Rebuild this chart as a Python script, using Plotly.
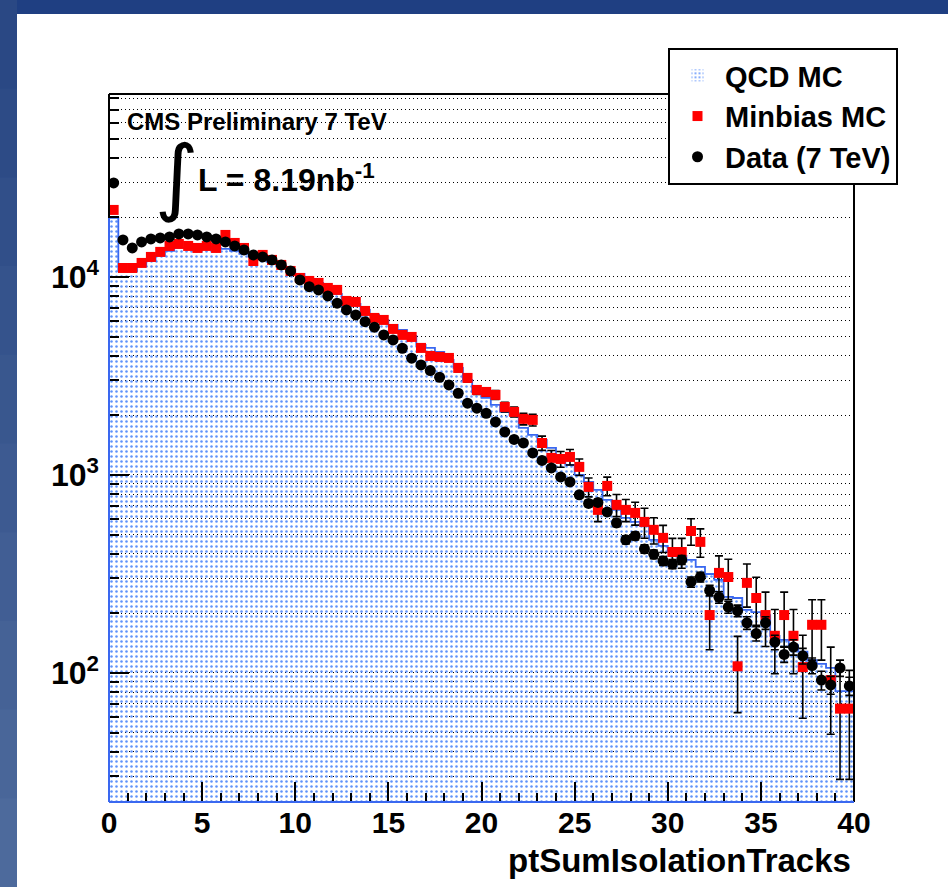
import numpy as np
import plotly.graph_objects as go

# ---------------- data ----------------
bin_edges = np.linspace(0, 40, 81)
bin_centers = 0.5 * (bin_edges[:-1] + bin_edges[1:])

qcd_mc = [19860, 10720, 10720, 11360, 12040, 12770, 13530, 14010, 14010, 14010,
          14170, 14010, 13850, 13530, 13070, 12620, 12330, 11910, 11360, 10850,
          10350, 9770, 9326, 8800, 8208, 7743, 7305, 6813, 6428, 6065,
          5722, 5398, 5035, 4535, 4380, 4180, 3809, 3471, 3019, 2625,
          2448, 2257, 2081, 2009, 1728, 1592, 1503, 1369, 1262, 1123,
          1000, 922, 840, 748, 666, 607, 579, 553, 470, 438,
          408, 390, 372, 343, 316, 295, 242, 239, 208, 203,
          196, 154, 147, 138, 128, 116, 111, 106, 81, 81]

minbias_mc = [21800, 11100, 11100, 11770, 12620, 13380, 14340, 14680, 14340, 14010,
              14340, 14010, 16300, 14850, 14010, 12040, 12920, 12190, 11500, 10720,
              9884, 9545, 9326, 8800, 8600, 7565, 7478, 6734, 6208, 6065,
              5462, 5095, 4977, 4380, 3990, 3945, 3899, 3471, 3090, 2687,
              2625, 2536, 2205, 2081, 1919, 1896, 1450, 1219, 1204, 1233,
              1098, 870, 666, 880, 706, 666, 643, 579, 528, 481,
              408, 408, 521, 459, 196, 320, 305, 108, 285, 239,
              196, 154, 196, 154, 107, 175, 175, 92, 66, 66]

minbias_err = [330, 230, 230, 240, 250, 260, 270, 270, 270, 265,
               270, 265, 290, 275, 265, 245, 255, 250, 240, 235,
               240, 235, 230, 225, 225, 210, 210, 200, 190, 190,
               180, 175, 170, 160, 155, 155, 150, 145, 140, 135,
               130, 130, 125, 120, 130, 130, 120, 110, 110, 110,
               105, 95, 85, 95, 90, 85, 85, 100, 80, 75,
               70, 70, 80, 75, 65, 70, 70, 45, 70, 65,
               60, 55, 60, 55, 48, 59, 59, 43, 37, 37]

data_7tev = [29830, 15380, 14010, 15030, 15560, 15740, 15920, 16490, 16490, 16300,
             15920, 15560, 15030, 14340, 13690, 12920, 12620, 12190, 11500, 10720,
             9656, 8934, 8600, 8017, 7366, 6813, 6428, 5946, 5572, 5095,
             4807, 4364, 3886, 3594, 3364, 3114, 2848, 2585, 2302, 2172,
             2049, 1852, 1649, 1511, 1450, 1292, 1184, 1085, 977, 922,
             793, 718, 726, 650, 572, 470, 492, 423, 397, 368,
             355, 372, 288, 305, 261, 241, 215, 206, 179, 158,
             179, 143, 124, 135, 122, 109, 92, 87, 106, 86]

data_err = [173, 124, 118, 123, 125, 125, 126, 128, 128, 128,
            126, 125, 123, 120, 117, 114, 112, 110, 107, 104,
            98, 95, 93, 90, 86, 83, 80, 77, 75, 71,
            69, 66, 62, 60, 58, 56, 53, 51, 48, 47,
            45, 43, 41, 39, 38, 36, 34, 33, 31, 30,
            28, 27, 27, 25, 24, 22, 22, 21, 20, 19,
            19, 19, 17, 17, 16, 16, 15, 14, 13, 13,
            13, 12, 11, 12, 11, 10, 10, 9, 10, 9]

x_tickvals = [0, 5, 10, 15, 20, 25, 30, 35, 40]
y_tickvals = [100, 1000, 10000]
y_ticktext = ["10<sup>2</sup>", "10<sup>3</sup>", "10<sup>4</sup>"]

# ---------------- layout helpers ----------------
W, H = 948, 887
PL, PR, PT, PB = 109, 854, 94, 802


def fx(p):
    return (p - PL) / (PR - PL)


def fy(p):
    return (PB - p) / (PB - PT)


FONT = "Liberation Sans, Arial, sans-serif"
HIST_BLUE = "#3a68f0"
DOT_BLUE = "#5f92fa"
GRID_DASH = "1px,3px"

fig = go.Figure()

# QCD MC: dotted fill (transparent background so the grid shows through)
fig.add_trace(go.Bar(
    x=bin_centers, y=qcd_mc, width=0.5,
    marker=dict(color="rgba(0,0,0,0)", line=dict(width=0),
                pattern=dict(shape=".", size=5, solidity=0.2, fgcolor=DOT_BLUE,
                             bgcolor="rgba(255,255,255,0)", fillmode="replace")),
    name="QCD MC", legendgroup="qcd", showlegend=True,
))
# QCD MC: step outline
step_x = list(bin_edges)
step_y = list(qcd_mc) + [qcd_mc[-1]]
fig.add_trace(go.Scatter(
    x=step_x, y=step_y, mode="lines", line=dict(color=HIST_BLUE, width=1.8, shape="hv"),
    showlegend=False, hoverinfo="skip",
))
# Minbias MC
fig.add_trace(go.Scatter(
    x=bin_centers, y=minbias_mc, mode="markers", name="Minbias MC", legendgroup="mb",
    marker=dict(symbol="square", size=10, color="#ff0000", line=dict(width=0)),
    error_y=dict(type="data", array=minbias_err, color="black", thickness=1.6, width=4),
))
# Data
fig.add_trace(go.Scatter(
    x=bin_centers, y=data_7tev, mode="markers", name="Data (7 TeV)", legendgroup="data",
    marker=dict(symbol="circle", size=11, color="black", line=dict(width=0)),
    error_y=dict(type="data", array=data_err, color="black", thickness=1.6, width=4),
))

shapes = []
shapes.append(dict(type="rect", xref="paper", yref="paper", layer="below",
                   x0=fx(-5), x1=fx(W + 5), y0=fy(H + 5), y1=fy(-5),
                   fillcolor="#2f4f8a", line=dict(width=0)))
n = 10
for i in range(n):
    t = i / (n - 1)
    r = int(0x2a + (0x4d - 0x2a) * t)
    g = int(0x48 + (0x6a - 0x48) * t)
    b = int(0x84 + (0x9c - 0x84) * t)
    shapes.append(dict(type="rect", xref="paper", yref="paper", layer="below",
                       x0=fx(-5), x1=fx(18), y0=fy(H * (i + 1) / n + 1), y1=fy(H * i / n),
                       fillcolor=f"rgb({r},{g},{b})", line=dict(width=0)))
shapes.append(dict(type="rect", xref="paper", yref="paper", layer="below",
                   x0=fx(17), x1=fx(W + 5), y0=fy(14), y1=fy(-5),
                   fillcolor="#1f3f82", line=dict(width=0)))
shapes.append(dict(type="rect", xref="paper", yref="paper", layer="below",
                   x0=fx(17), x1=fx(W + 5), y0=fy(H + 5), y1=fy(14),
                   fillcolor="white", line=dict(width=0)))
# frame: top/right black, left/bottom blue
shapes.append(dict(type="line", xref="paper", yref="paper", layer="above",
                   x0=0, x1=1, y0=1, y1=1, line=dict(color="black", width=2)))
shapes.append(dict(type="line", xref="paper", yref="paper", layer="above",
                   x0=1, x1=1, y0=0, y1=1, line=dict(color="black", width=2)))
shapes.append(dict(type="line", xref="paper", yref="paper", layer="above",
                   x0=0, x1=0, y0=0, y1=1, line=dict(color="black", width=2)))
shapes.append(dict(type="line", xref="paper", yref="paper", layer="above",
                   x0=0, x1=0, y0=0, y1=fy(218), line=dict(color=HIST_BLUE, width=2)))
shapes.append(dict(type="line", xref="paper", yref="paper", layer="above",
                   x0=0, x1=1, y0=0, y1=0, line=dict(color=HIST_BLUE, width=2)))

annotations = [
    dict(text="CMS Preliminary 7 TeV", xref="paper", yref="paper", x=fx(125), y=fy(121),
         xanchor="left", yanchor="middle", showarrow=False,
         font=dict(family=FONT, size=24, color="black", weight="bold")),
    dict(text="\u222B", xref="paper", yref="paper", x=fx(177), y=fy(176),
         xanchor="center", yanchor="middle", showarrow=False,
         font=dict(family="DejaVu Sans", size=84, color="black")),
    dict(text="L = 8.19nb<sup>-1</sup>", xref="paper", yref="paper", x=fx(196), y=fy(178),
         xanchor="left", yanchor="middle", showarrow=False,
         font=dict(family=FONT, size=32, color="black", weight="bold")),
    dict(text="ptSumIsolationTracks", xref="paper", yref="paper", x=fx(853), y=fy(860),
         xanchor="right", yanchor="middle", showarrow=False,
         font=dict(family=FONT, size=33, color="black", weight="bold")),
]

fig.update_layout(
    width=W, height=H,
    margin=dict(l=PL, r=W - PR, t=PT, b=H - PB, pad=0),
    paper_bgcolor="#2f4f8a",
    plot_bgcolor="rgba(0,0,0,0)",
    bargap=0,
    shapes=shapes,
    annotations=annotations,
    legend=dict(x=fx(668), y=fy(48), xanchor="left", yanchor="top",
                bgcolor="white", bordercolor="black", borderwidth=2,
                font=dict(family=FONT, size=29, color="black", weight="bold"),
                tracegroupgap=1, itemwidth=45, traceorder="normal"),
    xaxis=dict(range=[0, 40], tickvals=x_tickvals, ticks="inside", ticklen=20, tickwidth=1.5,
               tickcolor="black", showline=False, showgrid=False, zeroline=False,
               tickfont=dict(family=FONT, size=30, color="black", weight="bold"),
               minor=dict(dtick=1, ticks="inside", ticklen=9, tickwidth=1.5, tickcolor="black",
                          showgrid=False)),
    yaxis=dict(type="log", range=[1.348, 4.924], tickvals=y_tickvals, ticktext=y_ticktext,
               ticks="inside", ticklen=20, tickwidth=1.5, tickcolor="black",
               showline=False, zeroline=False, ticklabelstandoff=9,
               showgrid=True, gridcolor="black", gridwidth=1, griddash=GRID_DASH,
               tickfont=dict(family=FONT, size=32, color="black", weight="bold"),
               minor=dict(dtick="D1", ticks="inside", ticklen=10, tickwidth=1.5, tickcolor="black",
                          showgrid=True, gridcolor="black", gridwidth=1, griddash=GRID_DASH)),
)

fig.write_html("out.html")
